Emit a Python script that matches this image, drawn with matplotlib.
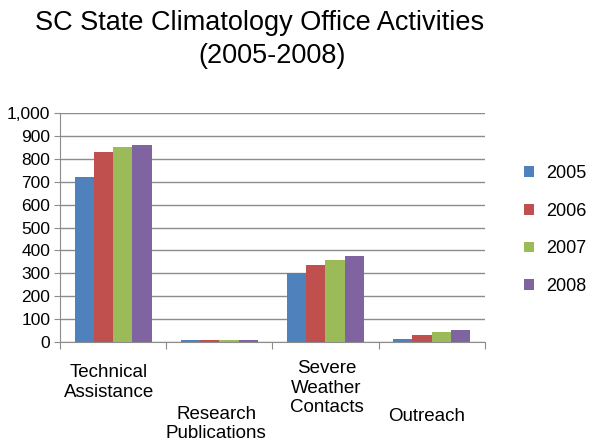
import matplotlib.pyplot as plt
import numpy as np
from matplotlib.transforms import blended_transform_factory

plt.rcParams["font.family"] = ["Liberation Sans", "DejaVu Sans"]

categories = ["Technical\nAssistance", "Research\nPublications", "Severe\nWeather\nContacts", "Outreach"]
years = ["2005", "2006", "2007", "2008"]
values_2005 = [720, 10, 300, 13]
values_2006 = [828, 10, 338, 31]
values_2007 = [852, 10, 357, 43]
values_2008 = [860, 10, 376, 51]
colors = ["#4F81BD", "#C0504D", "#9BBB59", "#8064A2"]

series = [values_2005, values_2006, values_2007, values_2008]

fig = plt.figure(figsize=(5.89, 4.45), dpi=100)
ax = fig.add_axes([0.102, 0.2315, 0.721, 0.5145])

x = np.arange(len(categories))
width = 0.182
for i, (vals, year, color) in enumerate(zip(series, years, colors)):
    ax.bar(x + (i - 1.5) * width, vals, width, color=color, label=year, zorder=3)

ax.set_xlim(-0.5, len(categories) - 0.5)
ax.set_ylim(0, 1000)
ax.set_yticks(np.arange(0, 1001, 100))
ax.set_yticklabels([f"{v:,}" for v in range(0, 1001, 100)], fontsize=12.5)
ax.yaxis.grid(True, color="#8c8c8c", linewidth=1, zorder=0)

for side in ["top", "right"]:
    ax.spines[side].set_visible(False)
ax.spines["left"].set_color("#8c8c8c")
ax.spines["bottom"].set_color("#8c8c8c")
ax.tick_params(axis="y", length=4, color="#8c8c8c", pad=3)

# separators between categories, like Excel
ax.set_xticks(np.arange(-0.5, len(categories)))
ax.set_xticklabels([])
ax.tick_params(axis="x", length=5, color="#8c8c8c")

# staggered category labels
trans = blended_transform_factory(ax.transData, fig.transFigure)
label_y = [0.140, 0.047, 0.128, 0.063]
label_dx = [-0.04, -0.03, 0.01, -0.05]
for xi, (lab, ly, dx) in enumerate(zip(categories, label_y, label_dx)):
    ax.text(xi + dx, ly, lab, transform=trans, ha="center", va="center",
            fontsize=13.5, linespacing=1.2)

fig.text(0.4406, 0.9326, "SC State Climatology Office Activities",
         ha="center", va="baseline", fontsize=19.5)
fig.text(0.462, 0.858, "(2005-2008)", ha="center", va="baseline", fontsize=19.5)

handles, labels = ax.get_legend_handles_labels()
fig.legend(handles, labels, loc="center left", bbox_to_anchor=(0.862, 0.483),
           frameon=False, fontsize=13, handlelength=0.55, handleheight=0.55,
           labelspacing=1.15, handletextpad=0.7)

fig.savefig("out.png", dpi=100)
